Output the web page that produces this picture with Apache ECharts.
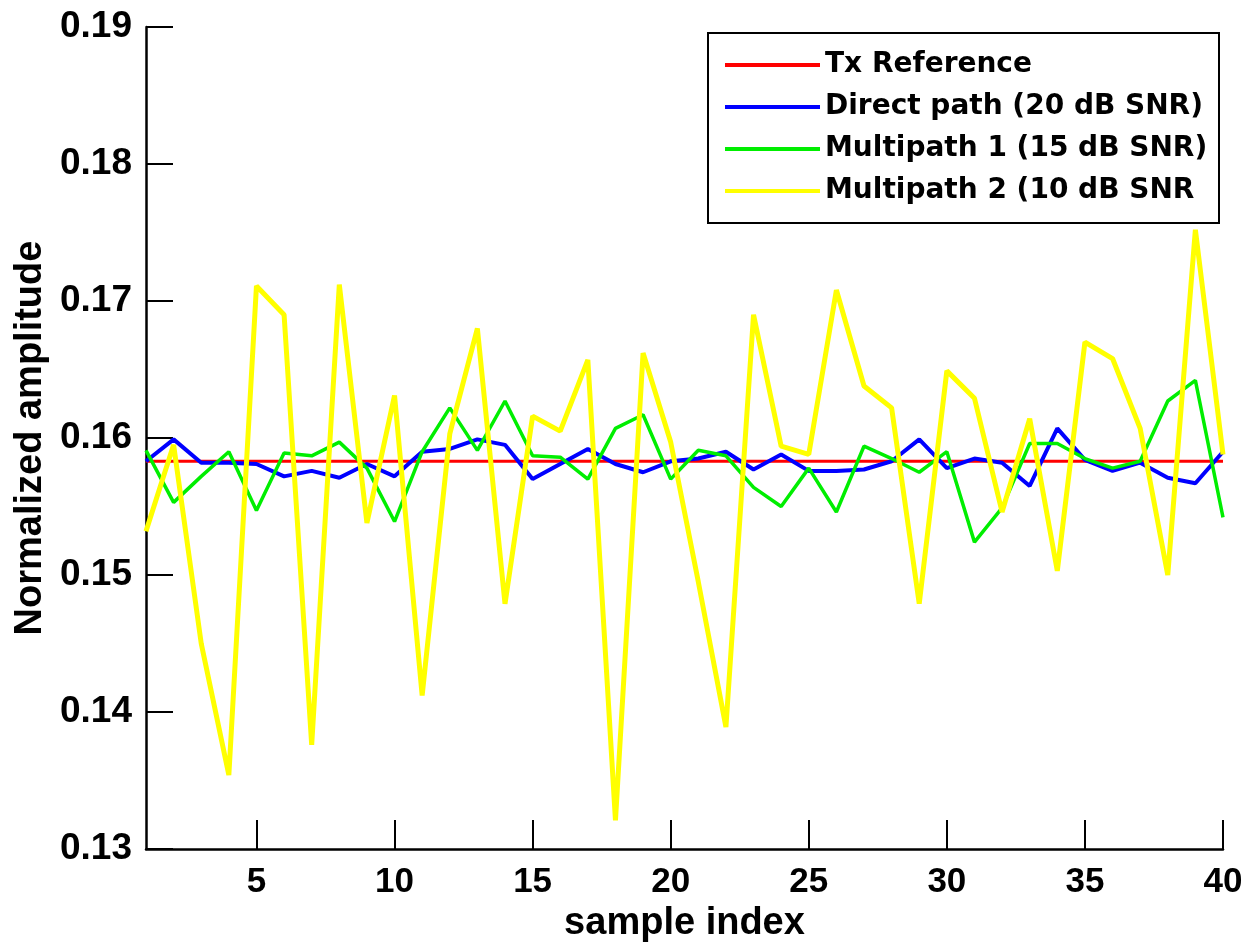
<!DOCTYPE html>
<html>
<head>
<meta charset="utf-8">
<script src="https://cdn.jsdelivr.net/npm/echarts@6/dist/echarts.min.js"></script>
<style>html,body{margin:0;padding:0;background:#fff}#c{width:1255px;height:950px}</style>
</head>
<body>
<div id="c"></div>
<script>
const sampleIndex = [1,2,3,4,5,6,7,8,9,10,11,12,13,14,15,16,17,18,19,20,21,22,23,24,25,26,27,28,29,30,31,32,33,34,35,36,37,38,39,40];
const xTicks = [5,10,15,20,25,30,35,40];
const seriesNames = ['Tx Reference','Direct path (20 dB SNR)','Multipath 1 (15 dB SNR)','Multipath 2 (10 dB SNR'];
const txReference = [0.1583,0.1583,0.1583,0.1583,0.1583,0.1583,0.1583,0.1583,0.1583,0.1583,0.1583,0.1583,0.1583,0.1583,0.1583,0.1583,0.1583,0.1583,0.1583,0.1583,0.1583,0.1583,0.1583,0.1583,0.1583,0.1583,0.1583,0.1583,0.1583,0.1583,0.1583,0.1583,0.1583,0.1583,0.1583,0.1583,0.1583,0.1583,0.1583,0.1583];
const directPath = [0.1583,0.1599,0.1582,0.1582,0.1581,0.1572,0.1576,0.1571,0.1581,0.1572,0.1590,0.1592,0.1599,0.1595,0.1570,0.1581,0.1592,0.1581,0.1575,0.1583,0.1585,0.1590,0.1577,0.1588,0.1576,0.1576,0.1577,0.1583,0.1599,0.1578,0.1585,0.1582,0.1565,0.1607,0.1584,0.1576,0.1582,0.1571,0.1567,0.1590];
const multipath1 = [0.1591,0.1553,0.1572,0.1590,0.1547,0.1589,0.1587,0.1597,0.1578,0.1539,0.1590,0.1622,0.1591,0.1627,0.1587,0.1586,0.1570,0.1607,0.1617,0.1570,0.1591,0.1587,0.1564,0.1550,0.1578,0.1546,0.1594,0.1585,0.1575,0.1590,0.1524,0.1549,0.1596,0.1596,0.1585,0.1578,0.1583,0.1627,0.1642,0.1542];
const multipath2 = [0.1532,0.1595,0.1450,0.1354,0.1711,0.1690,0.1376,0.1712,0.1538,0.1631,0.1412,0.1603,0.1680,0.1479,0.1616,0.1605,0.1657,0.1321,0.1662,0.1597,0.1495,0.1389,0.1690,0.1594,0.1588,0.1708,0.1638,0.1622,0.1479,0.1649,0.1629,0.1546,0.1614,0.1503,0.1670,0.1658,0.1607,0.1500,0.1752,0.1588];
const yMin = 0.13, yMax = 0.19, yStep = 0.01;

const colors = ['#ff0000','#0000ff','#00ee00','#ffff00'];
const widths = [3, 4, 3.5, 5];
const dataSets = [txReference, directPath, multipath1, multipath2];

const chart = echarts.init(document.getElementById('c'), null, {renderer:'canvas'});
const tickFont = 'Liberation Sans, Arial, sans-serif';
chart.setOption({
  animation: false,
  backgroundColor: '#ffffff',
  grid: {left: 146, right: 32, top: 27, bottom: 101, containLabel: false},
  legend: {
    orient: 'vertical',
    left: 708, top: 33,
    padding: [16, 4, 16, 17],
    itemGap: 10,
    itemWidth: 95, itemHeight: 4,
    icon: 'rect',
    backgroundColor: '#ffffff',
    borderColor: '#000', borderWidth: 2,
    textStyle: {fontFamily: 'DejaVu Sans', fontWeight: 'bold', fontSize: 28, color: '#000', width: 390, lineHeight: 32},
    data: seriesNames
  },
  xAxis: {
    type: 'value', min: 1, max: 40,
    name: 'sample index', nameLocation: 'middle', nameGap: 56,
    nameTextStyle: {fontFamily: tickFont, fontWeight: 'bold', fontSize: 38, color: '#000'},
    axisLine: {onZero: false, lineStyle: {color: '#000', width: 2.5}},
    axisTick: {inside: true, length: 29, customValues: xTicks, lineStyle: {color: '#000', width: 2}},
    axisLabel: {customValues: xTicks, margin: 16, fontFamily: tickFont, fontWeight: 'bold', fontSize: 35, color: '#000'},
    splitLine: {show: false}
  },
  yAxis: {
    type: 'value', min: yMin, max: yMax, interval: yStep,
    name: 'Normalized amplitude', nameLocation: 'middle', nameGap: 93,
    nameTextStyle: {fontFamily: tickFont, fontWeight: 'bold', fontSize: 38, color: '#000'},
    axisLine: {show: true, onZero: false, lineStyle: {color: '#000', width: 2.5}},
    axisTick: {inside: true, length: 27, lineStyle: {color: '#000', width: 2}},
    axisLabel: {margin: 14, fontFamily: tickFont, fontWeight: 'bold', fontSize: 37, color: '#000', formatter: v => v.toFixed(2)},
    splitLine: {show: false}
  },
  series: seriesNames.map((n, i) => ({
    name: n, type: 'line', showSymbol: false, symbol: 'none',
    data: sampleIndex.map((x, k) => [x, dataSets[i][k]]),
    lineStyle: {color: colors[i], width: widths[i]},
    itemStyle: {color: colors[i]},
    z: 2 + i
  }))
});
</script>
</body>
</html>
